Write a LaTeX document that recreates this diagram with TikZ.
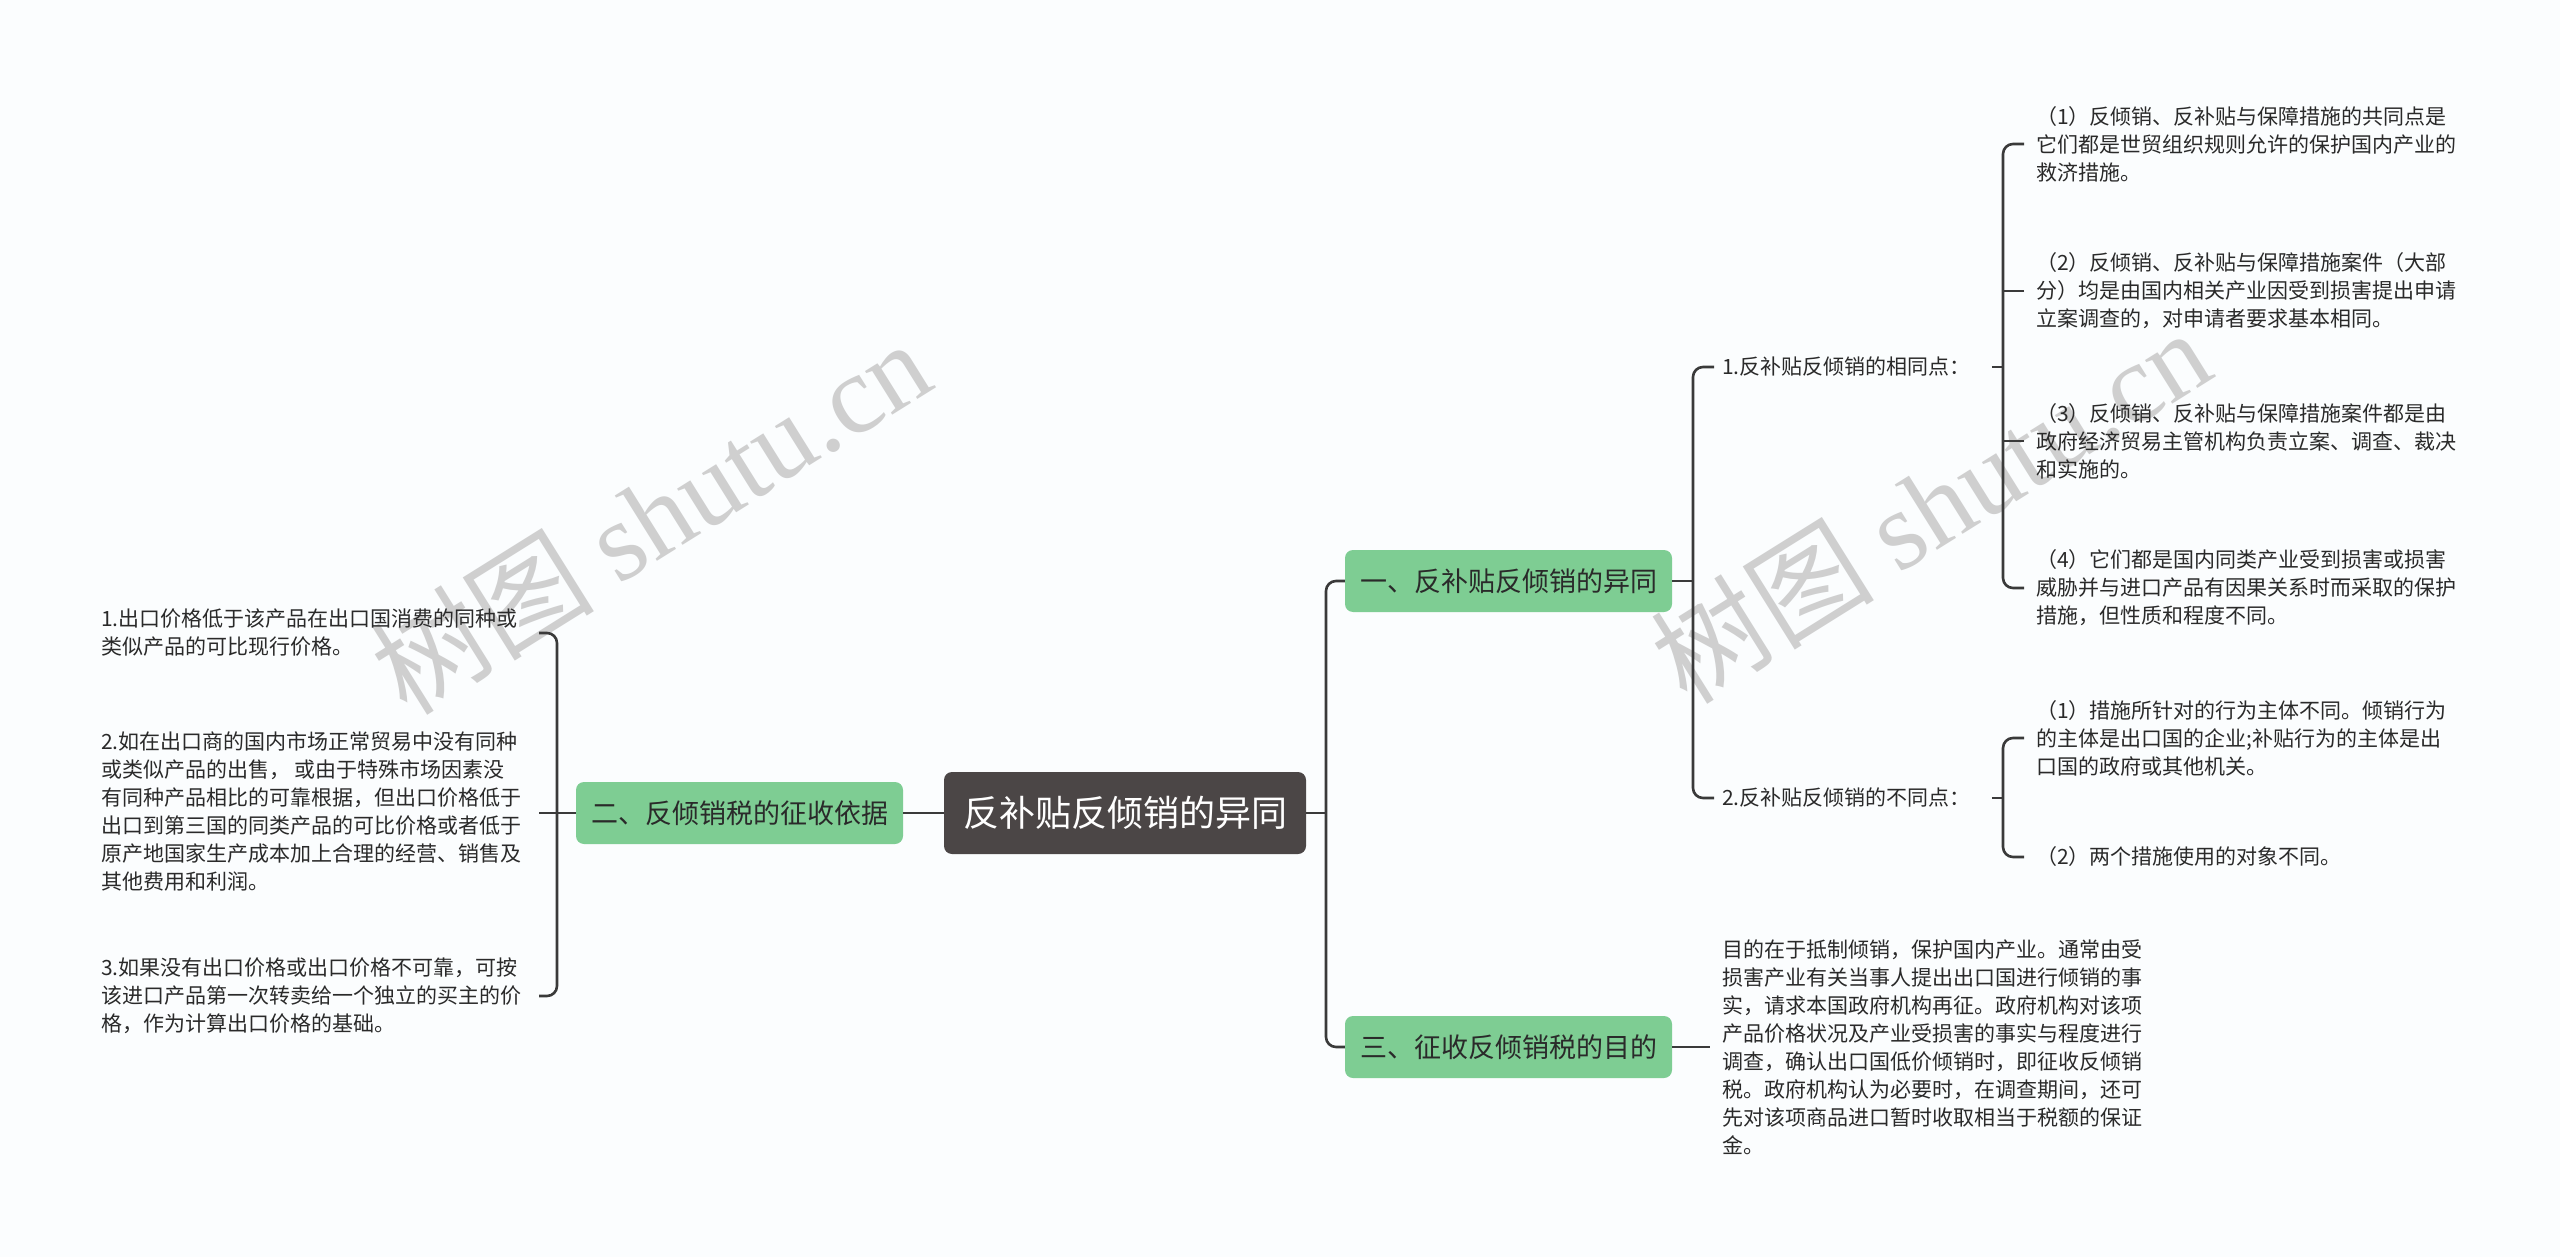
\documentclass[tikz,border=0pt]{standalone}
\usepackage{fontspec}
\setmainfont{Noto Sans CJK SC}
\newfontfamily\wmserif{Liberation Serif}
\usetikzlibrary{calc}
\definecolor{rootfill}{HTML}{4B4646}
\definecolor{greenfill}{HTML}{7ECD93}
\definecolor{linec}{HTML}{3A3A3A}
\definecolor{txtc}{HTML}{2A2A2A}
\definecolor{bgc}{HTML}{FBFDFE}
\definecolor{wmc}{HTML}{C4C4C4}
\tikzset{
  rootbox/.style={draw=none, fill=rootfill, text=white, rounded corners=8pt,
    minimum width=362pt, minimum height=82pt, inner sep=0pt,
    font=\fontsize{36}{40}\selectfont},
  branchbox/.style={draw=none, fill=greenfill, text=txtc, rounded corners=8pt,
    minimum width=327pt, minimum height=62pt, inner sep=0pt,
    font=\fontsize{27}{30}\selectfont},
  leaftext/.style={anchor=west, inner sep=0pt, align=left, text=txtc,
    font=\fontsize{21}{28}\selectfont},
  conn/.style={draw=linec, line width=2.6pt, rounded corners=10pt},
  wmark/.style={text=wmc, opacity=0.8, rotate=32, inner sep=0pt,
    font=\fontsize{112}{120}\selectfont}
}
\begin{document}
\begin{tikzpicture}[x=1pt,y=-1pt]
\useasboundingbox (0,0) rectangle (2560,1257);
\fill[bgc] (0,0) rectangle (2560,1257);

% watermarks (behind)
\node[wmark] (wm1) at (650,516) {树图 {\wmserif shutu.cn}};
\node[wmark] (wm2) at (1930,505) {树图 {\wmserif shutu.cn}};

% main nodes
\node[rootbox] (root) at (1125,813) {反补贴反倾销的异同};
\node[branchbox] (b1) at (1508.5,581) {一、反补贴反倾销的异同};
\node[branchbox] (b3) at (1508.5,1047) {三、征收反倾销税的目的};
\node[branchbox] (b2) at (739.5,813) {二、反倾销税的征收依据};

% left leaves
\node[leaftext] (l1) at (101,633) {1.出口价格低于该产品在出口国消费的同种或\\类似产品的可比现行价格。};
\node[leaftext] (l2) at (101,811) {2.如在出口商的国内市场正常贸易中没有同种\\或类似产品的出售， 或由于特殊市场因素没\\有同种产品相比的可靠根据，但出口价格低于\\出口到第三国的同类产品的可比价格或者低于\\原产地国家生产成本加上合理的经营、销售及\\其他费用和利润。};
\node[leaftext] (l3) at (101,996) {3.如果没有出口价格或出口价格不可靠，可按\\该进口产品第一次转卖给一个独立的买主的价\\格，作为计算出口价格的基础。};

% right sub nodes
\node[leaftext] (s1) at (1722,367) {1.反补贴反倾销的相同点：};
\node[leaftext] (s2) at (1722,798) {2.反补贴反倾销的不同点：};

\node[leaftext] (r1) at (2036,144) {（1）反倾销、反补贴与保障措施的共同点是\\它们都是世贸组织规则允许的保护国内产业的\\救济措施。};
\node[leaftext] (r2) at (2036,291) {（2）反倾销、反补贴与保障措施案件（大部\\分）均是由国内相关产业因受到损害提出申请\\立案调查的，对申请者要求基本相同。};
\node[leaftext] (r3) at (2036,441) {（3）反倾销、反补贴与保障措施案件都是由\\政府经济贸易主管机构负责立案、调查、裁决\\和实施的。};
\node[leaftext] (r4) at (2036,588) {（4）它们都是国内同类产业受到损害或损害\\威胁并与进口产品有因果关系时而采取的保护\\措施，但性质和程度不同。};
\node[leaftext] (r5) at (2036,738) {（1）措施所针对的行为主体不同。倾销行为\\的主体是出口国的企业;补贴行为的主体是出\\口国的政府或其他机关。};
\node[leaftext] (r6) at (2036,857) {（2）两个措施使用的对象不同。};

\node[leaftext] (t3) at (1722,1047) {目的在于抵制倾销，保护国内产业。通常由受\\损害产业有关当事人提出出口国进行倾销的事\\实，请求本国政府机构再征。政府机构对该项\\产品价格状况及产业受损害的事实与程度进行\\调查，确认出口国低价倾销时，即征收反倾销\\税。政府机构认为必要时，在调查期间，还可\\先对该项商品进口暂时收取相当于税额的保证\\金。};

% coordinates for connector elbows
\coordinate (lbx) at (557,813);
\coordinate (lbs) at (539,813);
\coordinate (rx) at (1326,813);
\coordinate (b1x) at (1693,581);
\coordinate (b1s) at (1714,581);
\coordinate (s1x) at (2003,367);
\coordinate (s1s) at (2024,367);
\coordinate (s2x) at (2003,798);
\coordinate (s2s) at (2024,798);
\coordinate (t3s) at (1710,1047);

% connectors left
\draw[conn] (root.west) -- (b2.east);
\draw[conn] (b2.west) -- (lbs);
\draw[conn] (lbs |- l1) -- (lbx |- l1) -- (lbx |- l3) -- (lbs |- l3);

% connectors right
\draw[conn] (root.east) -- (rx);
\draw[conn] (b1.west) -- (rx |- b1) -- (rx |- b3) -- (b3.west);
\draw[conn] (b1.east) -- (b1x);
\draw[conn] (b1s |- s1) -- (b1x |- s1) -- (b1x |- s2) -- (b1s |- s2);
\draw[conn] (s1.east) ++(21,0) -- (s1x);
\draw[conn] (s1s |- r1) -- (s1x |- r1) -- (s1x |- r4) -- (s1s |- r4);
\draw[conn] (s1s |- r2) -- (s1x |- r2);
\draw[conn] (s1s |- r3) -- (s1x |- r3);
\draw[conn] (s2.east) ++(21,0) -- (s2x);
\draw[conn] (s2s |- r5) -- (s2x |- r5) -- (s2x |- r6) -- (s2s |- r6);
\draw[conn] (b3.east) -- (t3s);
\end{tikzpicture}
\end{document}
